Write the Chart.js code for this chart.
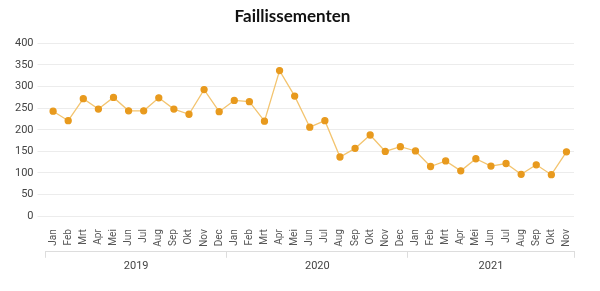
<!DOCTYPE html>
<html lang="nl">
<head>
<meta charset="UTF-8">
<title>Faillissementen</title>
<script src="https://cdn.jsdelivr.net/npm/chart.js"></script>
<style>
  html, body { margin: 0; padding: 0; background: #fff; }
  #wrap { width: 600px; height: 291px; }
</style>
</head>
<body>
<div id="wrap"><canvas id="myChart"></canvas></div>
<script>
const months = ['Jan','Feb','Mrt','Apr','Mei','Jun','Jul','Aug','Sep','Okt','Nov','Dec'];
const monthLabels = [...months, ...months, ...months.slice(0, 11)];

const values2019 = [243, 221, 272, 248, 275, 244, 244, 274, 248, 236, 293, 242];
const values2020 = [268, 265, 220, 337, 278, 206, 221, 137, 157, 188, 150, 161];
const values2021 = [151, 115, 128, 105, 133, 116, 122, 97, 119, 96, 149];
const values = [...values2019, ...values2020, ...values2021];

// year groups: label and position (month index) on the second axis
const yearLabels = ['2019', '2020', '2021'];
const yearCenters = [5.5, 17.5, 29];
const yearBounds = [-0.5, 11.5, 23.5, 34.5];

const ctx = document.getElementById('myChart').getContext('2d');
new Chart(ctx, {
    type: 'line',
    data: {
        labels: monthLabels,
        datasets: [{
            label: 'Faillissementen',
            data: values,
            borderColor: '#f3c46f',
            borderWidth: 1.3,
            pointBackgroundColor: '#e89a1e',
            pointBorderColor: '#e89a1e',
            pointRadius: 3,
            tension: 0
        }]
    },
    options: {
        responsive: true,
        maintainAspectRatio: false,
        animation: false,
        layout: { padding: { left: 11, right: 26, top: 0, bottom: 16 } },
        plugins: {
            legend: { display: false },
            title: {
                display: true,
                text: 'Faillissementen',
                color: '#111',
                font: { family: 'Lato', size: 17, weight: 'bold' },
                padding: { top: 6, bottom: 17 }
            }
        },
        scales: {
            x: {
                offset: true,
                grid: { display: false },
                border: { display: false },
                ticks: {
                    autoSkip: false,
                    maxRotation: 90,
                    minRotation: 90,
                    color: '#555',
                    font: { family: 'Roboto', size: 10 },
                    padding: 5
                }
            },
            x2: {
                type: 'linear',
                position: 'bottom',
                min: -0.5,
                max: 34.5,
                afterBuildTicks: axis => {
                    axis.ticks = [...yearBounds, ...yearCenters].sort((a, b) => a - b).map(v => ({ value: v }));
                },
                grid: {
                    drawOnChartArea: false,
                    tickLength: 6,
                    color: ctx => yearBounds.includes(ctx.tick && ctx.tick.value) ? '#ddd' : 'rgba(0,0,0,0)'
                },
                border: { display: true, color: '#ddd' },
                ticks: {
                    autoSkip: false,
                    maxRotation: 0,
                    color: '#444',
                    font: { family: 'Roboto', size: 11 },
                    padding: 2,
                    callback: v => {
                        const i = yearCenters.indexOf(v);
                        return i >= 0 ? yearLabels[i] : '';
                    }
                }
            },
            y: {
                min: 0,
                max: 400,
                border: { display: false },
                grid: { color: '#ececec' },
                ticks: {
                    stepSize: 50,
                    color: '#444',
                    font: { family: 'Roboto', size: 11 },
                    padding: 4
                }
            }
        }
    }
});
</script>
</body>
</html>
